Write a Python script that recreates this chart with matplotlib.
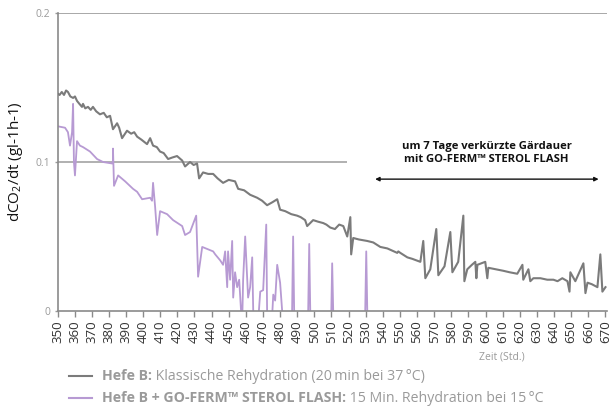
import numpy as np
import matplotlib
matplotlib.use("Agg")
import matplotlib.pyplot as plt

plt.rcParams['font.family'] = ['Open Sans', 'DejaVu Sans']
plt.rcParams['mathtext.default'] = 'regular'

# Hefe B, klassische Rehydration
gray_x = [350, 351.2, 352.5, 353.8, 355.0, 356.1, 357.5, 359.1, 360.2, 361.4, 362.8, 364.3,
          364.9, 366.2, 367.8, 369.4, 370.7, 372.6, 374.8, 377.0, 378.8, 380.7, 382.4, 384.8,
          386.0, 387.7, 390.6, 393.0, 394.8, 396.5, 399.0, 402.3, 404.1, 405.8, 408.0, 409.9,
          412.0, 414.6, 417.0, 419.8, 422.8, 424.5, 427.4, 429.5, 431.5, 432.7, 435.0, 438.0,
          440.9, 443.5, 446.7, 450.0, 453.7, 455.5, 459.0, 462.5, 466.6, 469.5, 472.4, 475.5,
          478.3, 480.0, 483.0, 486.5, 489.9, 492.0, 494.6, 495.8, 499.3, 502.0, 505.2, 507.0,
          509.3, 512.0, 514.5, 516.9, 519.2, 521.0, 521.5, 522.7, 526.0, 530.9, 534.4, 538.5,
          542.6, 548.4, 549.0, 550.2, 554.3, 557.2, 561.9, 563.6, 564.8, 567.7, 571.2, 572.4,
          576.0, 579.4, 580.6, 584.0, 587.0, 587.6, 589.3, 592.0, 594.0, 594.6, 595.2, 599.8,
          601.0, 601.6, 606.0, 610.3, 614.0, 618.5, 621.5, 622.0, 625.0, 626.1, 627.9, 632.0,
          636.0, 639.6, 642.0, 644.8, 647.8, 649.0, 649.5, 652.4, 657.1, 658.3, 659.5, 662.0,
          665.3, 667.0, 668.2, 670]
gray_y = [0.146, 0.145, 0.147, 0.145, 0.148, 0.147, 0.144, 0.143, 0.144, 0.141, 0.139, 0.137,
          0.139, 0.136, 0.137, 0.135, 0.137, 0.134, 0.132, 0.133, 0.130, 0.131, 0.122, 0.126,
          0.123, 0.116, 0.121, 0.119, 0.120, 0.117, 0.115, 0.112, 0.116, 0.111, 0.110, 0.107,
          0.106, 0.102, 0.103, 0.104, 0.101, 0.097, 0.100, 0.098, 0.099, 0.089, 0.093, 0.092,
          0.092, 0.089, 0.086, 0.088, 0.087, 0.082, 0.081, 0.078, 0.076, 0.074, 0.071, 0.073,
          0.075, 0.068, 0.067, 0.065, 0.064, 0.063, 0.061, 0.057, 0.061, 0.060, 0.059, 0.058,
          0.056, 0.055, 0.058, 0.057, 0.050, 0.063, 0.038, 0.049, 0.048, 0.047, 0.046, 0.043,
          0.042, 0.039, 0.040, 0.039, 0.036, 0.035, 0.033, 0.047, 0.022, 0.028, 0.055, 0.024,
          0.030, 0.053, 0.026, 0.033, 0.064, 0.020, 0.028, 0.031, 0.033, 0.022, 0.031, 0.033,
          0.022, 0.029, 0.028, 0.027, 0.026, 0.025, 0.031, 0.021, 0.028, 0.020, 0.022, 0.022,
          0.021, 0.021, 0.020, 0.022, 0.020, 0.013, 0.026, 0.020, 0.032, 0.012, 0.019, 0.018,
          0.016, 0.038, 0.013, 0.016]

# Hefe B + GO-FERM STEROL FLASH (nan = Luecke)
purple_x = [350, 354.4, 356.1, 357.3, 358.5, 359.1, 359.6, 360.2, 361.4, 363.1, 364.9, 369.0,
            373.1, 376.6, 381.9, 382.4, 382.4, 383.0, 385.4, 389.5, 394.1, 396.5, 399.4, 404.1,
            405.2, 405.8, 407.0, 408.2, 409.9, 414.0, 417.5, 422.8, 424.5, 427.4, 431.0, 431.5,
            432.1, 434.5, 440.9, 442.1, 445.0, 446.7, 447.9, 449.1, 449.6, 450.8, 452.0, 452.6,
            453.7, 454.9, 456.1, 457.2, np.nan, 458.0, 458.4, 459.6, 461.3, 462.5, 463.7, 464.3,
            np.nan, 467.6, 468.4, 470.1, 471.9, 472.4, np.nan, 475.5, 476.0, 477.1, 478.3,
            480.0, 481.2, np.nan, 487.0, 487.6, 488.2, np.nan, 496.4, 497.0, 497.6, np.nan,
            509.9, 510.4, 511.0, np.nan, 529.7, 530.3, 530.9]
purple_y = [0.124, 0.123, 0.120, 0.111, 0.120, 0.139, 0.100, 0.091, 0.114, 0.111, 0.110, 0.107,
            0.102, 0.100, 0.099, 0.101, 0.109, 0.084, 0.091, 0.087, 0.082, 0.080, 0.075, 0.076,
            0.074, 0.086, 0.070, 0.051, 0.067, 0.065, 0.061, 0.057, 0.051, 0.053, 0.064, 0.046,
            0.023, 0.043, 0.040, 0.038, 0.034, 0.031, 0.040, 0.016, 0.040, 0.021, 0.047, 0.009,
            0.026, 0.016, 0.021, 0.0, np.nan, 0.0, 0.021, 0.050, 0.009, 0.016, 0.036, 0.0,
            np.nan, 0.0, 0.013, 0.014, 0.058, 0.0, np.nan, 0.0, 0.011, 0.007, 0.031,
            0.019, 0.0, np.nan, 0.0, 0.050, 0.0, np.nan, 0.0, 0.045, 0.0, np.nan,
            0.0, 0.032, 0.0, np.nan, 0.0, 0.040, 0.0]

x_ticks = list(range(350, 680, 10))
y_ticks = [0, 0.1, 0.2]
y_tick_labels = ['0', '0.1', '0.2']

GRAY = '#7b7b7b'
PURPLE = '#b79ad3'
TXT = '#9a9a9a'

W, H = 609, 409
fig = plt.figure(figsize=(W / 100, H / 100), dpi=100)
ax = fig.add_axes([57.5 / W, 1 - 311 / H, 0.9026, 298 / H])

ax.plot(gray_x, gray_y, color=GRAY, lw=1.5, zorder=3)
ax.plot(purple_x, purple_y, color=PURPLE, lw=1.3, zorder=2)

# Hilfslinien
ax.axhline(0.2, color='#9a9a9a', lw=1.2, zorder=1)
ax.hlines(0.1, 350, 519, color='#b0b0b0', lw=1.4, zorder=1)

ax.set_xlim(350, 671)
ax.set_ylim(0, 0.2)
ax.set_xticks(x_ticks)
ax.set_xticklabels([str(t) for t in x_ticks], rotation=90, fontsize=9.5, color='#333333')
ax.set_yticks(y_ticks)
ax.set_yticklabels(y_tick_labels, fontsize=7.5, color=TXT)
ax.tick_params(axis='x', length=4, width=1, color='#8a8a8a', pad=3)
ax.tick_params(axis='y', length=2, width=1, color='#9a9a9a', pad=3)

for s in ['top', 'right']:
    ax.spines[s].set_visible(False)
for s in ['left', 'bottom']:
    ax.spines[s].set_color('#8a8a8a')
    ax.spines[s].set_linewidth(1.2)

ax.set_ylabel('dCO$_2$/dt (gl-1h-1)', fontsize=11, color='#111111', labelpad=8)

# Annotation
ax.text(600.5, 0.106, 'um 7 Tage verkürzte Gärdauer\nmit GO-FERM™ STEROL FLASH',
        ha='center', va='center', fontsize=8.1, fontweight='bold', color='#111111',
        linespacing=1.35)
ax.annotate('', xy=(535.5, 0.0885), xytext=(666, 0.0885),
            arrowprops=dict(arrowstyle='<|-|>', color='#111111', lw=1.0,
                            mutation_scale=6, shrinkA=0, shrinkB=0))

fig.text(502 / W, 1 - 357 / H, 'Zeit (Std.)', ha='center', va='center',
         fontsize=7.5, color=TXT)

# Legende
renderer = fig.canvas.get_renderer()
legend_rows = [
    (GRAY, 'Hefe B:', ' Klassische Rehydration (20\u2009min bei 37\u2009°C)', 376),
    (PURPLE, 'Hefe B + GO-FERM™ STEROL FLASH:', ' 15 Min. Rehydration bei 15\u2009°C', 398),
]
for col, bold, rest, py in legend_rows:
    yf = 1 - py / H
    fig.add_artist(plt.Line2D([69 / W, 92 / W], [yf, yf], color=col, lw=1.5,
                              transform=fig.transFigure))
    t = fig.text(102 / W, yf, bold, ha='left', va='center', fontsize=10.2,
                 fontweight='bold', color=TXT)
    bb = t.get_window_extent(renderer)
    fig.text(bb.x1 / fig.bbox.width, yf, rest, ha='left', va='center', fontsize=10.2,
             color=TXT)

fig.savefig('out.png', dpi=100)
